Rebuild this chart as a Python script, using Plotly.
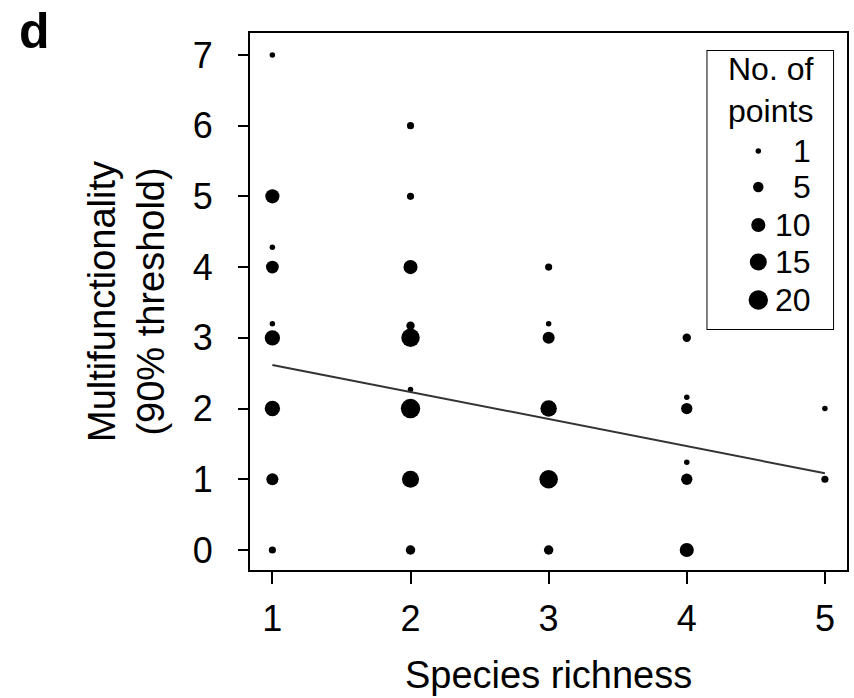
import plotly.graph_objects as go
import numpy as np

# ---- data ----
richness = [1, 1, 1, 1, 1, 1, 1, 1, 1,
            2, 2, 2, 2, 2, 2, 2, 2, 2,
            3, 3, 3, 3, 3, 3,
            4, 4, 4, 4, 4, 4,
            5, 5]
multifunc = [7, 5, 4.28, 4, 3.2, 3, 2, 1, 0,
             6, 5, 4, 3.17, 3, 2.27, 2, 1, 0,
             4, 3.2, 3, 2, 1, 0,
             3, 2.16, 2, 1.24, 1, 0,
             2, 1]
n_points = [1, 10, 1, 8, 1, 12, 12, 7, 2,
            2, 2, 10, 3, 18, 1, 20, 15, 4,
            2, 1, 7, 14, 18, 4,
            3, 1, 6, 1, 6, 10,
            1, 2]
fit_intercept = 3.0
fit_slope = -0.383
fit_x = [1, 5]
legend_counts = [1, 5, 10, 15, 20]
legend_labels = ["1", "5", "10", "15", "20"]
x_ticks = [1, 2, 3, 4, 5]
y_ticks = [0, 1, 2, 3, 4, 5, 6, 7]


def msize(n):
    return 1.5 + 4.0 * np.sqrt(np.asarray(n, dtype=float))


FONT = "Liberation Sans, Arial, sans-serif"
W, H = 854, 698
L, R, T, B = 250, 5, 33, 128
plot_w = W - L - R
plot_h = H - T - B

fig = go.Figure()

fig.add_trace(go.Scatter(
    x=richness, y=multifunc, mode="markers",
    marker=dict(size=msize(n_points), color="black", opacity=1, line=dict(width=0)),
    showlegend=False, hoverinfo="skip"))

fit_y = [fit_intercept + fit_slope * v for v in fit_x]
fig.add_trace(go.Scatter(
    x=fit_x, y=fit_y, mode="lines",
    line=dict(color="#333333", width=2),
    showlegend=False, hoverinfo="skip"))

# ---- custom legend on an inset axis (pixel-like units) ----
lg_left, lg_right, lg_top, lg_bottom = 708, 836, 50, 330
row_y = [151, 187, 225, 262, 300]
marker_x = 760
fig.add_trace(go.Scatter(
    x=[marker_x] * len(legend_counts), y=row_y, mode="markers",
    marker=dict(size=msize(legend_counts), color="black", opacity=1, line=dict(width=0)),
    xaxis="x2", yaxis="y2", showlegend=False, hoverinfo="skip"))

annotations = []
for lab, yy in zip(legend_labels, row_y):
    annotations.append(dict(x=815, y=yy, xref="x2", yref="y2", text=lab,
                            showarrow=False, xanchor="right", yanchor="middle",
                            font=dict(family=FONT, size=32, color="black")))
annotations.append(dict(x=(lg_left + lg_right) / 2, y=90, xref="x2", yref="y2",
                        text="No. of<br>points", showarrow=False,
                        xanchor="center", yanchor="middle",
                        font=dict(family=FONT, size=32, color="black")))

# axis titles and panel label
annotations.append(dict(x=0.5, y=-(675 - (T + plot_h)) / plot_h, xref="paper", yref="paper",
                        text="Species richness", showarrow=False,
                        xanchor="center", yanchor="middle",
                        font=dict(family=FONT, size=38, color="black")))
annotations.append(dict(x=-(L - 126) / plot_w, y=0.5, xref="paper", yref="paper",
                        text="Multifunctionality<br>(90% threshold)", showarrow=False,
                        textangle=-90, xanchor="center", yanchor="middle",
                        font=dict(family=FONT, size=38, color="black")))
annotations.append(dict(x=-(L - 34) / plot_w, y=1 + (T - 31) / plot_h, xref="paper", yref="paper",
                        text="<b>d</b>", showarrow=False,
                        xanchor="center", yanchor="middle",
                        font=dict(family=FONT, size=50, color="black")))

fig.update_layout(
    width=W, height=H,
    margin=dict(l=L, r=R, t=T, b=B),
    plot_bgcolor="white", paper_bgcolor="white",
    font=dict(family=FONT, size=36, color="black"),
    xaxis=dict(range=[0.838, 5.16], tickvals=x_ticks, ticktext=[str(v) for v in x_ticks],
               showline=True, linecolor="black", linewidth=2, mirror=True,
               ticks="outside", ticklen=12, tickwidth=2, tickcolor="black",
               showgrid=False, zeroline=False, ticklabelstandoff=4,
               tickfont=dict(family=FONT, size=36)),
    yaxis=dict(range=[-0.283, 7.31], tickvals=y_ticks, ticktext=[str(v) for v in y_ticks],
               showline=True, linecolor="black", linewidth=2, mirror=True,
               ticks="outside", ticklen=10, tickwidth=2, tickcolor="black",
               showgrid=False, zeroline=False, ticklabelstandoff=18,
               tickfont=dict(family=FONT, size=36)),
    xaxis2=dict(domain=[(lg_left - L) / plot_w, (lg_right - L) / plot_w],
                range=[lg_left, lg_right], visible=False, anchor="y2", fixedrange=True),
    yaxis2=dict(domain=[(H - B - lg_bottom) / plot_h, (H - B - lg_top) / plot_h],
                range=[lg_bottom, lg_top], visible=False, anchor="x2", fixedrange=True),
    shapes=[dict(type="rect", xref="x2", yref="y2", x0=lg_left, x1=lg_right,
                 y0=lg_top, y1=lg_bottom, line=dict(color="black", width=2),
                 fillcolor="white", layer="below")],
    annotations=annotations,
    showlegend=False,
)

fig.write_html("out.html")
